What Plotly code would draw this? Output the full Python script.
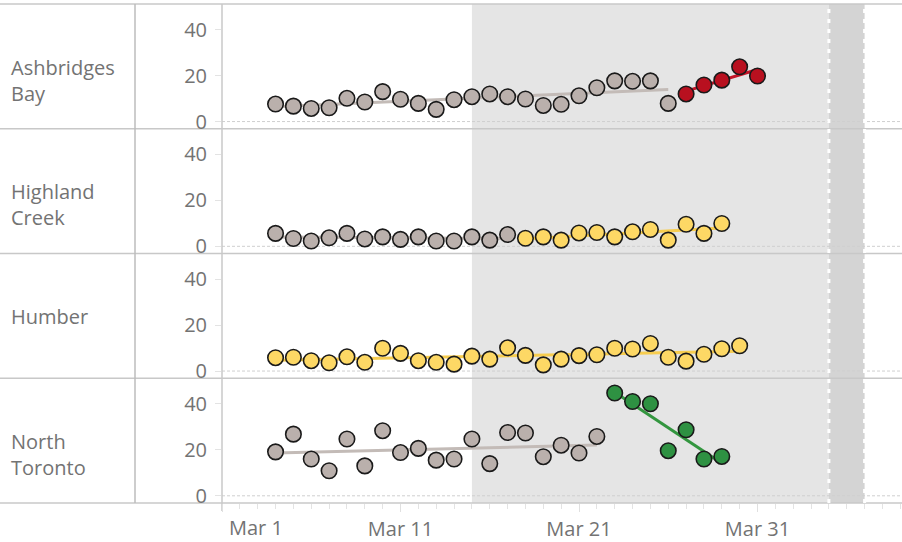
import numpy as np
import pandas as pd
import plotly.graph_objects as go
from plotly.subplots import make_subplots

# ---------------- data ----------------
site_labels = ["Ashbridges<br>Bay", "Highland<br>Creek", "Humber", "North<br>Toronto"]

ab_start = "2020-03-04"
ab_gray = [7.6, 6.7, 5.7, 6.0, 10.1, 8.5, 13.0, 9.7, 7.9, 5.3, 9.5, 10.8, 12.0,
           10.8, 9.8, 7.0, 7.5, 11.2, 14.7, 17.7, 17.5, 17.7, 7.9]
ab_red = [12.0, 15.9, 18.0, 23.8, 19.8]

hc_start = "2020-03-04"
hc_gray = [5.6, 3.4, 2.3, 3.7, 5.6, 3.2, 4.1, 3.0, 4.1, 2.3, 2.3, 4.1, 2.7, 5.1]
hc_yellow = [3.5, 4.1, 2.7, 5.8, 6.0, 4.1, 6.3, 7.3, 2.7, 9.6, 5.6, 9.9]

hu_start = "2020-03-04"
hu_yellow = [5.8, 6.0, 4.5, 3.6, 6.2, 3.8, 9.9, 7.7, 4.5, 3.8, 3.0, 6.5, 5.2, 10.1,
             6.8, 2.7, 5.2, 6.7, 7.1, 9.9, 9.6, 12.0, 6.0, 4.3, 7.3, 9.7, 11.0]

nt_start = "2020-03-04"
nt_gray = [19.1, 26.8, 16.0, 10.9, 24.7, 13.0, 28.3, 18.8, 20.6, 15.5, 16.0, 24.7,
           14.0, 27.5, 27.3, 17.0, 22.0, 18.6, 25.8]
nt_green = [44.7, 41.0, 40.0, 19.6, 28.7, 16.0, 17.1]

y_tick_vals = [0, 20, 40]
x_tick_dates = ["2020-03-01", "2020-03-11", "2020-03-21", "2020-03-31"]
x_tick_text = ["Mar 1", "Mar 11", "Mar 21", "Mar 31"]
shade_period = ["2020-03-15", "2020-04-04"]
dark_period = ["2020-04-04", "2020-04-06"]
x_range = ["2020-03-01", "2020-04-08 02:17"]

# ---------------- styling ----------------
palette = {
    "gray": ("#bab0ac", "#c3bbb7"),
    "red": ("#b8101f", "#c41427"),
    "yellow": ("#fdd865", "#f7cd4f"),
    "green": ("#2e9142", "#33963f"),
}
TXT = "#737373"
FONT = "Open Sans"
SEP = "#c8c8c8"

rows = [
    (ab_start, [("gray", ab_gray), ("red", ab_red)]),
    (hc_start, [("gray", hc_gray), ("yellow", hc_yellow)]),
    (hu_start, [("yellow", hu_yellow)]),
    (nt_start, [("gray", nt_gray), ("green", nt_green)]),
]

fig = make_subplots(rows=4, cols=1, shared_xaxes=True, vertical_spacing=0)

segments = []
for r, (start, segs) in enumerate(rows, 1):
    d0 = pd.Timestamp(start)
    for color, vals in segs:
        dates = pd.date_range(d0, periods=len(vals), freq="D")
        segments.append((r, color, dates, vals))
        d0 = dates[-1] + pd.Timedelta(days=1)

# trend lines first (behind dots)
for r, color, dates, vals in segments:
    t = np.arange(len(vals))
    slope, icpt = np.polyfit(t, vals, 1)
    fig.add_trace(go.Scatter(
        x=[dates[0], dates[-1]], y=[icpt, icpt + slope * t[-1]],
        mode="lines", line=dict(color=palette[color][1], width=3),
        hoverinfo="skip"), row=r, col=1)

for r, color, dates, vals in segments:
    fig.add_trace(go.Scatter(
        x=dates, y=vals, mode="markers",
        marker=dict(size=15.5, color=palette[color][0],
                    line=dict(color="#1a1a1a", width=1.6))), row=r, col=1)

# ---------------- layout ----------------
W, H = 902, 542
ML, MT, MB = 222, 4, 39
PW, PH = W - ML, H - MT - MB


def px_x(px):
    return (px - ML) / PW


def px_y(py):
    return (H - MB - py) / PH


fig.update_layout(
    width=W, height=H,
    margin=dict(l=ML, r=0, t=MT, b=MB, autoexpand=False),
    showlegend=False, plot_bgcolor="white", paper_bgcolor="white",
    font=dict(family=FONT, size=20, color=TXT),
)

fig.update_yaxes(range=[-3.13, 51.1], tickvals=y_tick_vals, showgrid=False,
                 zeroline=False, showline=False, ticks="outside", ticklen=6,
                 tickcolor="#e3e3e3", ticklabelstandoff=4,
                 tickfont=dict(family=FONT, size=20, color=TXT))
fig.update_xaxes(range=x_range, showgrid=False, zeroline=False, showline=False)
fig.update_xaxes(row=4, col=1, tickvals=x_tick_dates,
                 ticktext=[""] + x_tick_text[1:],
                 ticks="outside", ticklen=8, tickcolor="#e0e0e0",
                 tickfont=dict(family=FONT, size=20, color=TXT),
                 minor=dict(ticks="outside", ticklen=5, dtick=86400000,
                            tick0="2020-03-01", tickcolor="#e3e3e3"))

shapes = []
# shaded periods
shapes.append(dict(type="rect", xref="x", yref="paper", x0=shade_period[0], x1=shade_period[1],
                   y0=0, y1=1, fillcolor="#e5e5e5", line=dict(width=0), layer="below"))
shapes.append(dict(type="rect", xref="x", yref="paper", x0=dark_period[0], x1=dark_period[1],
                   y0=0, y1=1, fillcolor="#d4d4d4", line=dict(width=0), layer="below"))
# zero reference lines
for i in range(4):
    yref = "y" if i == 0 else f"y{i+1}"
    shapes.append(dict(type="line", xref="paper", yref=yref, x0=0, x1=1, y0=0, y1=0,
                       line=dict(color="#cfcfcf", width=1, dash="3px,2px"), layer="below"))
# row separators
for k in range(5):
    yy = k / 4
    shapes.append(dict(type="line", xref="paper", yref="paper", x0=px_x(0), x1=1,
                       y0=yy, y1=yy, line=dict(color=SEP, width=1.5), layer="below"))
shapes.append(dict(type="line", xref="paper", yref="paper", x0=px_x(135), x1=px_x(135),
                   y0=0, y1=1, line=dict(color="#bdbdbd", width=1.5), layer="below"))
shapes.append(dict(type="line", xref="paper", yref="paper", x0=0, x1=0,
                   y0=px_y(511), y1=1, line=dict(color=SEP, width=1.5), layer="below"))
# white dotted period edges
for d in dark_period:
    shapes.append(dict(type="line", xref="x", yref="paper", x0=d, x1=d, y0=0, y1=1,
                       line=dict(color="white", width=3, dash="4px,6px"), layer="below"))
fig.update_layout(shapes=shapes)

# row labels
label_py = [80, 205, 316, 454]
annotations = []
for lab, py in zip(site_labels, label_py):
    annotations.append(dict(text=lab, xref="paper", yref="paper", x=px_x(9), y=px_y(py),
                            xanchor="left", yanchor="middle", align="left", showarrow=False,
                            font=dict(family=FONT, size=20, color=TXT)))
# first date label kept inside the pane
annotations.append(dict(text=x_tick_text[0], xref="x4", yref="paper", x=x_tick_dates[0],
                        y=px_y(527), xanchor="left", yanchor="middle", xshift=5,
                        showarrow=False, font=dict(family=FONT, size=20, color=TXT)))
fig.update_layout(annotations=annotations)

fig.write_html("out.html", config={"displayModeBar": False},
               post_script="document.body.style.margin='0';document.body.style.overflow='hidden';")
